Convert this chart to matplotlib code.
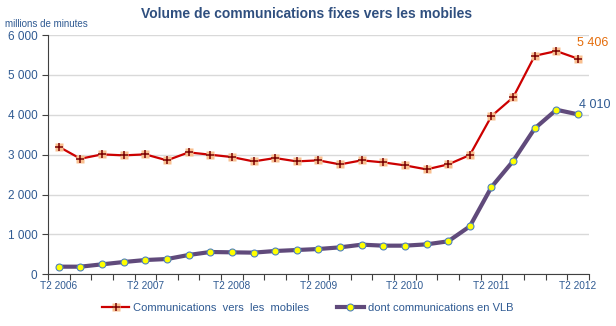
import numpy as np
import matplotlib.pyplot as plt
from matplotlib.ticker import FuncFormatter

plt.rcParams['font.family'] = ['Liberation Sans', 'DejaVu Sans']

# quarterly data, T2 2006 -> T2 2012
quarters = ['T2 2006', '', '', '', 'T2 2007', '', '', '', 'T2 2008', '', '', '', 'T2 2009',
            '', '', '', 'T2 2010', '', '', '', 'T2 2011', '', '', '', 'T2 2012']
mobiles = [3199, 2898, 3007, 2982, 3007, 2857, 3057, 2999, 2940, 2831, 2915, 2831, 2857,
           2756, 2857, 2806, 2731, 2631, 2756, 2990, 3967, 4436, 5480, 5597, 5406]
vlb = [191, 191, 250, 308, 358, 383, 484, 559, 551, 543, 584, 609, 634,
       676, 743, 718, 718, 751, 827, 1203, 2188, 2840, 3658, 4126, 4010]

txt = '#2F5A92'
x = np.arange(len(quarters))

fig = plt.figure(figsize=(6.16, 3.26), dpi=100)
ax = fig.add_axes([0.0779, 0.1586, 0.878, 0.734])

l1, = ax.plot(x, mobiles, color='#CC0000', lw=1.6, zorder=3)
m1, = ax.plot(x, mobiles, 's', ms=6, mfc='#F9BF8F', mec='none', zorder=4)
p1, = ax.plot(x, mobiles, '+', ms=6, mew=1.1, color='#7A0000', zorder=5)
l2, = ax.plot(x, vlb, color='#604A7B', lw=3, zorder=3)
m2, = ax.plot(x, vlb, 'o', ms=5, mfc='#FFFF00', mec='#4F81BD', mew=0.8, zorder=4)

ax.text(x[-1] - 0.05, mobiles[-1] + 320, '5 406', color='#E46C0A', fontsize=9)
ax.text(x[-1] + 0.05, vlb[-1] + 170, '4 010', color=txt, fontsize=9)

ax.set_xlim(-0.5, len(quarters) - 0.5)
ax.set_ylim(0, 6000)
ax.set_yticks(range(0, 6001, 1000))
ax.yaxis.set_major_formatter(FuncFormatter(lambda v, p: f'{int(v):,}'.replace(',', ' ')))
ax.grid(axis='y', color='#D9D9D9', lw=1)
ax.set_axisbelow(True)

ax.set_xticks(np.arange(-0.5, len(quarters), 1))
ax.set_xticklabels([])
ax.set_xticks(x, minor=True)
ax.set_xticklabels(quarters, minor=True)
ax.tick_params(axis='x', which='major', length=4, color='#404040', direction='out')
ax.tick_params(axis='x', which='minor', length=0, labelsize=7.3, labelcolor=txt, pad=5)
ax.tick_params(axis='y', length=4, color='#404040', labelsize=8.5, labelcolor=txt)

for s in ['top', 'right']:
    ax.spines[s].set_visible(False)
ax.spines['left'].set_color('#404040')
ax.spines['bottom'].set_color('#404040')

fig.text(0.498, 0.945, 'Volume de communications fixes vers les mobiles', ha='center',
         fontsize=10, fontweight='bold', color='#2F4F7F')
fig.text(0.008, 0.925, 'millions de minutes', fontsize=7, color=txt, va='center')

fig.legend([(l1, m1, p1), (l2, m2)],
           ['Communications  vers  les  mobiles', 'dont communications en VLB'],
           loc='center', bbox_to_anchor=(0.499, 0.055), ncol=2, frameon=False,
           fontsize=8, labelcolor=txt, handlelength=2.5, columnspacing=2.5, handletextpad=0.3)

fig.savefig('out.png', dpi=100)
